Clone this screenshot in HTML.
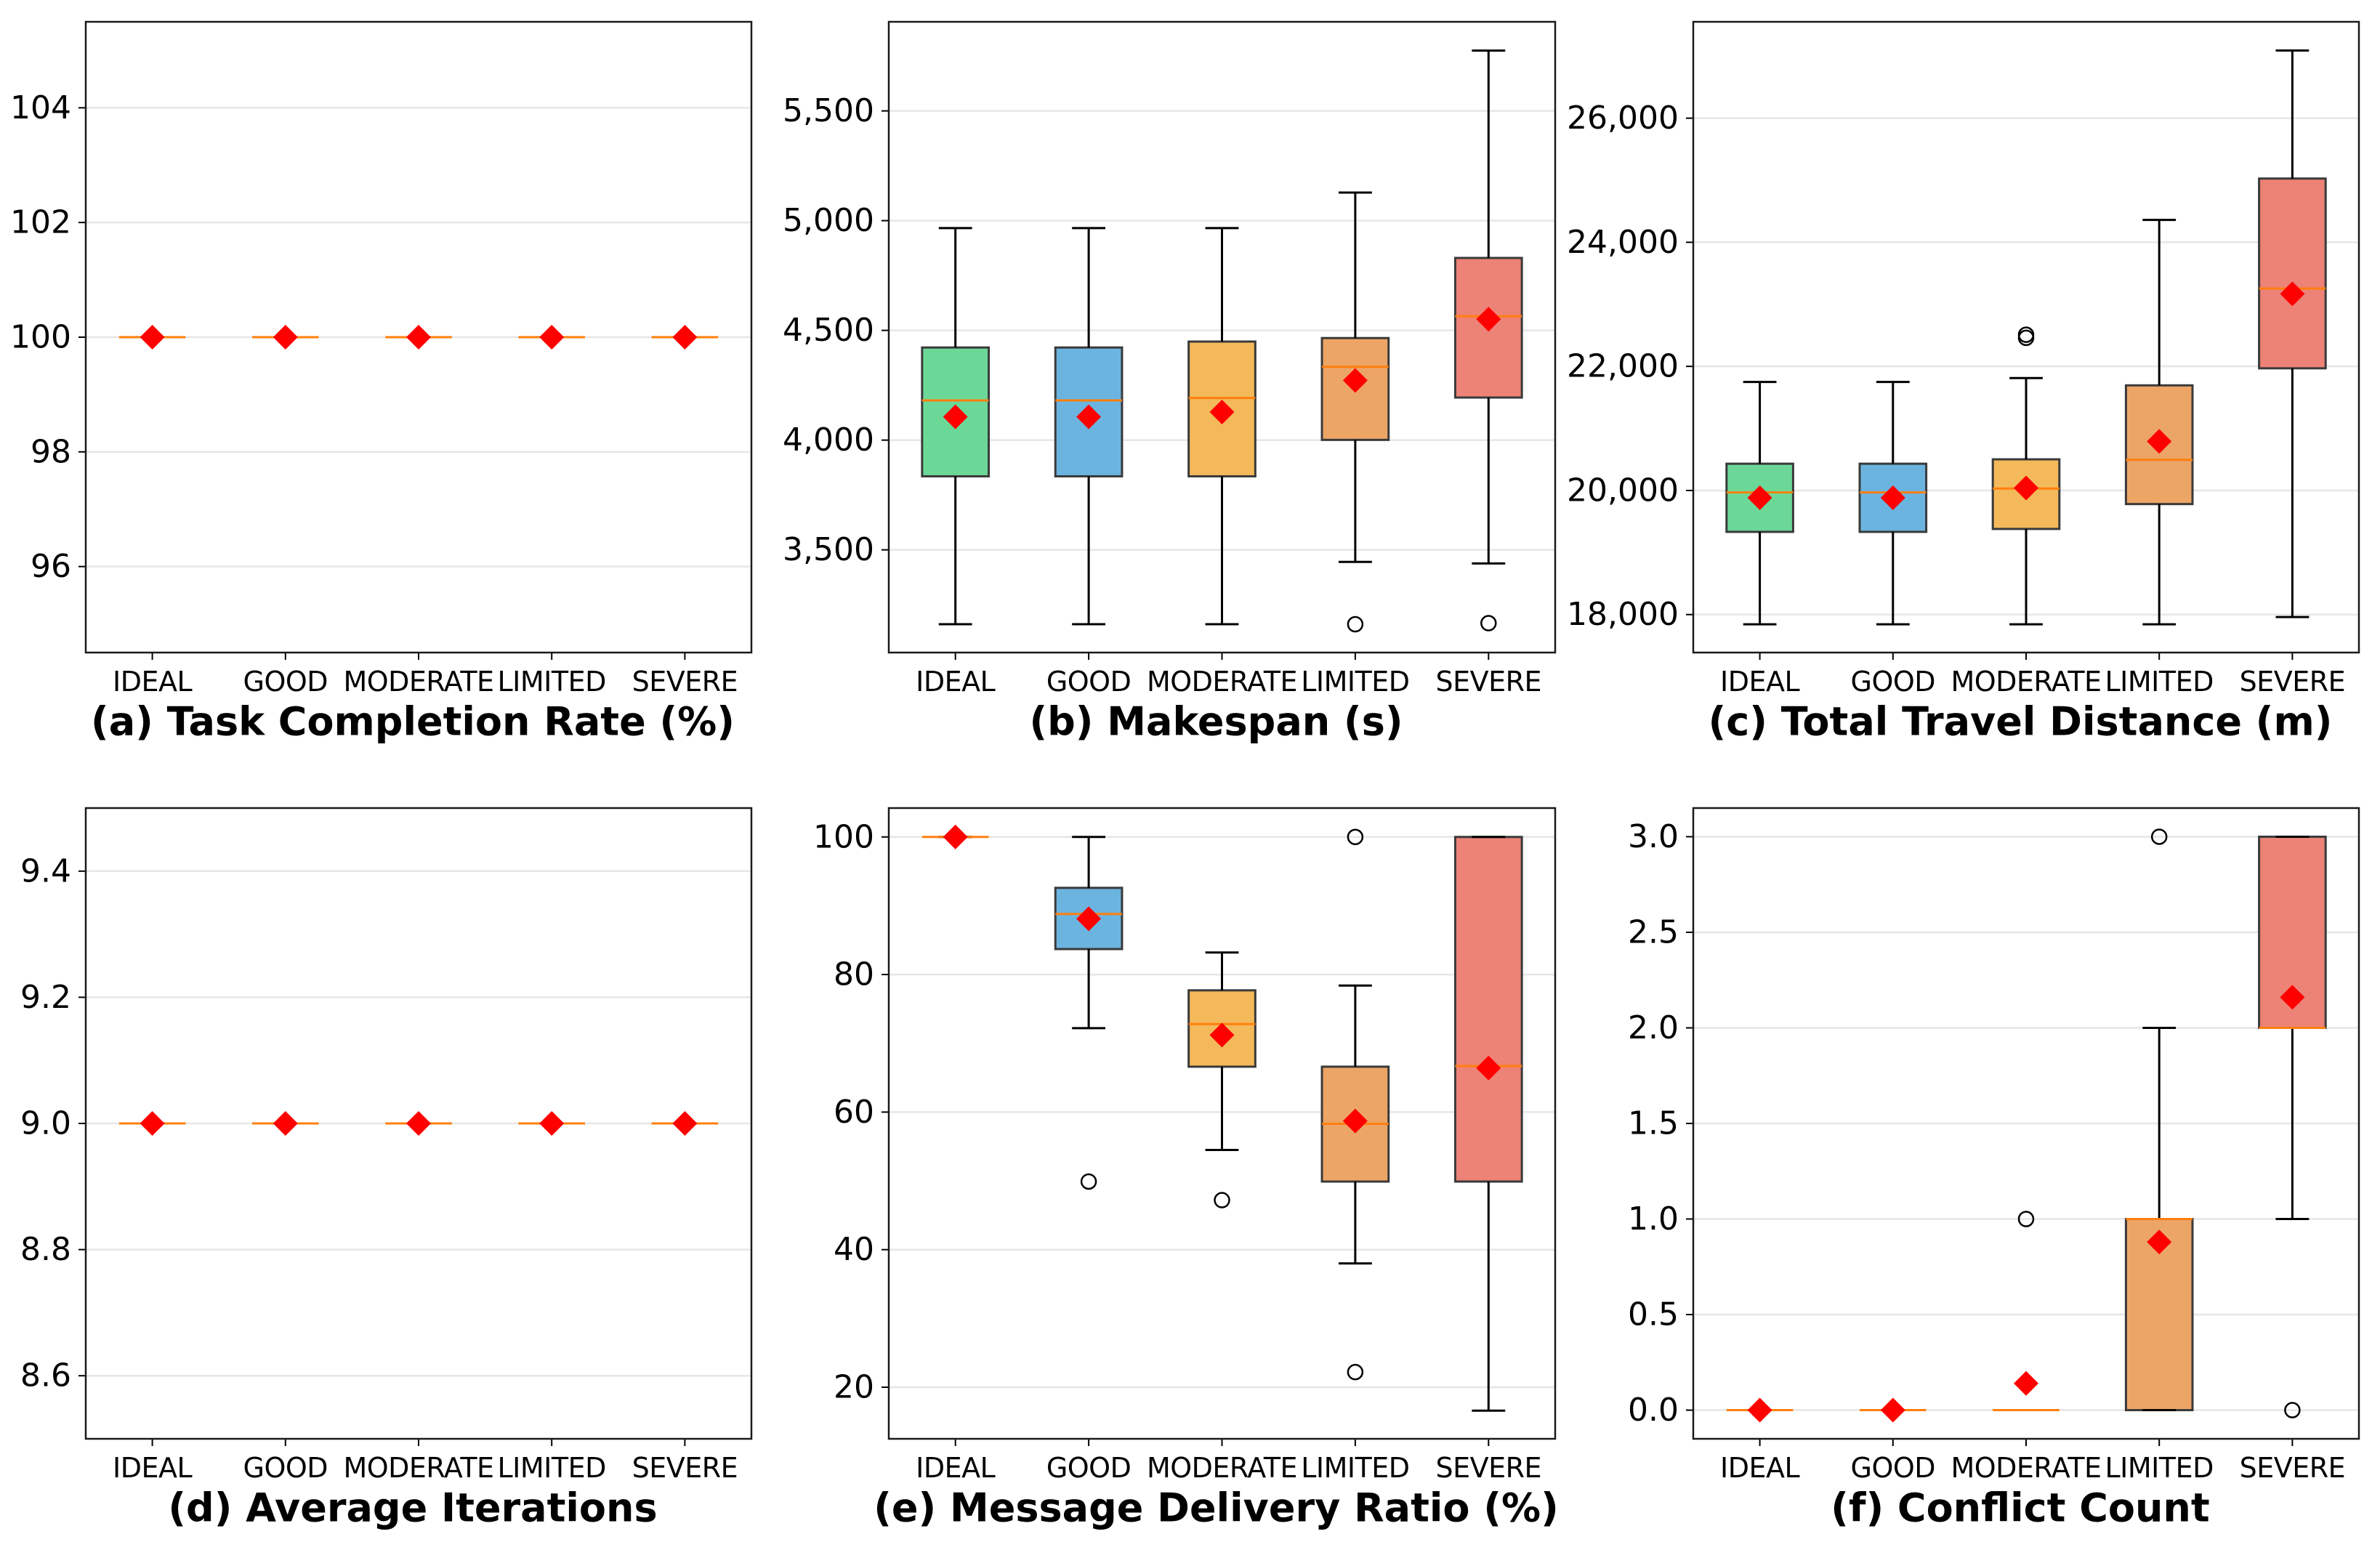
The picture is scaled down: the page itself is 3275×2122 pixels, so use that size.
<!DOCTYPE html>
<html><head><meta charset="utf-8">
<style>
html,body{margin:0;padding:0;background:#fff;}
svg{display:block;font-family:"DejaVu Sans","Liberation Sans",sans-serif;}
</style></head>
<body>
<svg id="fig" width="3275" height="2122" viewBox="0 0 3275 2122" xmlns="http://www.w3.org/2000/svg"></svg>
<script>
const categories = ["IDEAL","GOOD","MODERATE","LIMITED","SEVERE"];
const boxColors = ["#6cd898","#6cb4e0","#f4b95a","#eda566","#ed8277"];

// (a) Task Completion Rate
const aLow = [100,100,100,100,100];
const aQ1 = [100,100,100,100,100];
const aMed = [100,100,100,100,100];
const aQ3 = [100,100,100,100,100];
const aHigh = [100,100,100,100,100];
const aMean = [100,100,100,100,100];
const aOut = [[],[],[],[],[]];
const aTicks = [96,98,100,102,104];
const aRange = [94.5,105.5];

// (b) Makespan
const bLow = [3161,3161,3161,3445,3438];
const bQ1 = [3835,3835,3835,4001,4194];
const bMed = [4181,4181,4192,4334,4564];
const bQ3 = [4422,4422,4449,4465,4830];
const bHigh = [4966,4966,4966,5128,5775];
const bMean = [4106,4106,4128,4272,4551];
const bOut = [[],[],[],[3161],[3166]];
const bTicks = [3500,4000,4500,5000,5500];
const bRange = [3032,5906];

// (c) Total Travel Distance
const cLow = [17843,17843,17843,17843,17961];
const cQ1 = [19333,19333,19380,19781,21969];
const cMed = [19969,19969,20031,20494,23255];
const cQ3 = [20431,20431,20502,21694,25027];
const cHigh = [21749,21749,21812,24361,27090];
const cMean = [19882,19882,20040,20792,23169];
const cOut = [[],[],[22510,22460],[],[]];
const cTicks = [18000,20000,22000,24000,26000];
const cRange = [17388,27553];

// (d) Average Iterations
const dLow = [9,9,9,9,9];
const dQ1 = [9,9,9,9,9];
const dMed = [9,9,9,9,9];
const dQ3 = [9,9,9,9,9];
const dHigh = [9,9,9,9,9];
const dMean = [9,9,9,9,9];
const dOut = [[],[],[],[],[]];
const dTicks = [8.6,8.8,9.0,9.2,9.4];
const dRange = [8.5,9.5];

// (e) Message Delivery Ratio
const eLow = [100,72.2,54.5,38.0,16.6];
const eQ1 = [100,83.7,66.6,49.9,49.9];
const eMed = [100,88.8,72.8,58.3,66.7];
const eQ3 = [100,92.6,77.7,66.6,100];
const eHigh = [100,100,83.2,78.4,100];
const eMean = [100,88.1,71.2,58.7,66.4];
const eOut = [[],[49.9],[47.2],[100,22.2],[]];
const eTicks = [20,40,60,80,100];
const eRange = [12.5,104.2];

// (f) Conflict Count
const fLow = [0,0,0,0,1];
const fQ1 = [0,0,0,0,2];
const fMed = [0,0,0,1,2];
const fQ3 = [0,0,0,1,3];
const fHigh = [0,0,0,2,3];
const fMean = [0,0,0.14,0.88,2.16];
const fOut = [[],[],[1],[3],[0]];
const fTicks = [0,0.5,1.0,1.5,2.0,2.5,3.0];
const fRange = [-0.15,3.15];

const NS = "http://www.w3.org/2000/svg";
const fig = document.getElementById("fig");
function mk(parent, tag, attrs){
  const e = document.createElementNS(NS, tag);
  for (const k in attrs) e.setAttribute(k, attrs[k]);
  parent.appendChild(e);
  return e;
}
function fmt(v, kind){
  if (kind === "comma") return v.toLocaleString("en-US");
  if (kind === "1dp") return v.toFixed(1);
  return String(v);
}

const panels = [
  {key:"a", title:"(a) Task Completion Rate (%)", x0:118, x1:1034, y0:30, y1:898, low:aLow,q1:aQ1,med:aMed,q3:aQ3,high:aHigh,mean:aMean,out:aOut,ticks:aTicks,range:aRange,fmt:"int"},
  {key:"b", title:"(b) Makespan (s)", x0:1223, x1:2140, y0:30, y1:898, low:bLow,q1:bQ1,med:bMed,q3:bQ3,high:bHigh,mean:bMean,out:bOut,ticks:bTicks,range:bRange,fmt:"comma"},
  {key:"c", title:"(c) Total Travel Distance (m)", x0:2330, x1:3246, y0:30, y1:898, low:cLow,q1:cQ1,med:cMed,q3:cQ3,high:cHigh,mean:cMean,out:cOut,ticks:cTicks,range:cRange,fmt:"comma"},
  {key:"d", title:"(d) Average Iterations", x0:118, x1:1034, y0:1112, y1:1980, low:dLow,q1:dQ1,med:dMed,q3:dQ3,high:dHigh,mean:dMean,out:dOut,ticks:dTicks,range:dRange,fmt:"1dp"},
  {key:"e", title:"(e) Message Delivery Ratio (%)", x0:1223, x1:2140, y0:1112, y1:1980, low:eLow,q1:eQ1,med:eMed,q3:eQ3,high:eHigh,mean:eMean,out:eOut,ticks:eTicks,range:eRange,fmt:"int"},
  {key:"f", title:"(f) Conflict Count", x0:2330, x1:3246, y0:1112, y1:1980, low:fLow,q1:fQ1,med:fMed,q3:fQ3,high:fHigh,mean:fMean,out:fOut,ticks:fTicks,range:fRange,fmt:"1dp"}
];

panels.forEach(p => {
  const g = mk(fig, "g", {});
  
  
  const band = (p.x1 - p.x0) / categories.length;
  const xs = i => p.x0 + (i + 0.5) * band;
  const ys = v => p.y1 - (v - p.range[0]) / (p.range[1] - p.range[0]) * (p.y1 - p.y0);

  p.ticks.forEach(t => {
    const y = ys(t);
    const gl = mk(g, "line", {x1:p.x0, x2:p.x1, y1:y, y2:y, stroke:"#e6e6e6", "stroke-width":2.5});
    
    
    const tk = mk(g, "line", {x1:p.x0-10, x2:p.x0, y1:y, y2:y, stroke:"#000", "stroke-width":2});
    
    
    const tl = mk(g, "text", {x:p.x0-20, y:y, "text-anchor":"end", "dominant-baseline":"central", "font-size":44, fill:"#000"});
    tl.textContent = fmt(t, p.fmt);
    
    
  });

  categories.forEach((c, i) => {
    const x = xs(i);
    const tk = mk(g, "line", {x1:x, x2:x, y1:p.y1, y2:p.y1+10, stroke:"#000", "stroke-width":2});
    
    
    const tl = mk(g, "text", {x:x, y:p.y1+40, "text-anchor":"middle", "dominant-baseline":"central", "font-size":38, "letter-spacing":"-0.5", fill:"#000"});
    tl.textContent = c;
    
    
  });

  categories.forEach((c, i) => {
    const x = xs(i), hw = band * 0.25, cw = band * 0.125;
    const top = ys(p.q3[i]), bot = ys(p.q1[i]);
    const box = mk(g, "rect", {x:x-hw, y:top, width:2*hw, height:Math.max(0, bot-top), fill:boxColors[i], stroke:"#3a3a3a", "stroke-width":3});
    
    
    const w1 = mk(g, "line", {x1:x, x2:x, y1:ys(p.q3[i]), y2:ys(p.high[i]), stroke:"#000", "stroke-width":3});
    
    
    const w2 = mk(g, "line", {x1:x, x2:x, y1:ys(p.q1[i]), y2:ys(p.low[i]), stroke:"#000", "stroke-width":3});
    
    
    const c1 = mk(g, "line", {x1:x-cw, x2:x+cw, y1:ys(p.high[i]), y2:ys(p.high[i]), stroke:"#000", "stroke-width":3});
    
    
    const c2 = mk(g, "line", {x1:x-cw, x2:x+cw, y1:ys(p.low[i]), y2:ys(p.low[i]), stroke:"#000", "stroke-width":3});
    
    
    const md = mk(g, "line", {x1:x-hw, x2:x+hw, y1:ys(p.med[i]), y2:ys(p.med[i]), stroke:"#ff7f0e", "stroke-width":3});
    
    
    p.out[i].forEach(v => {
      const o = mk(g, "circle", {cx:x, cy:ys(v), r:10, fill:"none", stroke:"#000", "stroke-width":2.5});
      
      
    });
    const my = ys(p.mean[i]), d = 17;
    const dm = mk(g, "polygon", {points:`${x},${my-d} ${x+d},${my} ${x},${my+d} ${x-d},${my}`, fill:"#ff0000"});
    
    
  });

  const fr = mk(g, "rect", {x:p.x0, y:p.y0, width:p.x1-p.x0, height:p.y1-p.y0, fill:"none", stroke:"#1a1a1a", "stroke-width":2.5});
  
  

  const tt = mk(g, "text", {x:(p.x0+p.x1)/2 - 8, y:p.y1+95, "text-anchor":"middle", "dominant-baseline":"central", "font-size":54, "font-weight":"bold", fill:"#000"});
  tt.textContent = p.title;
  
  
});
</script>
</body></html>
